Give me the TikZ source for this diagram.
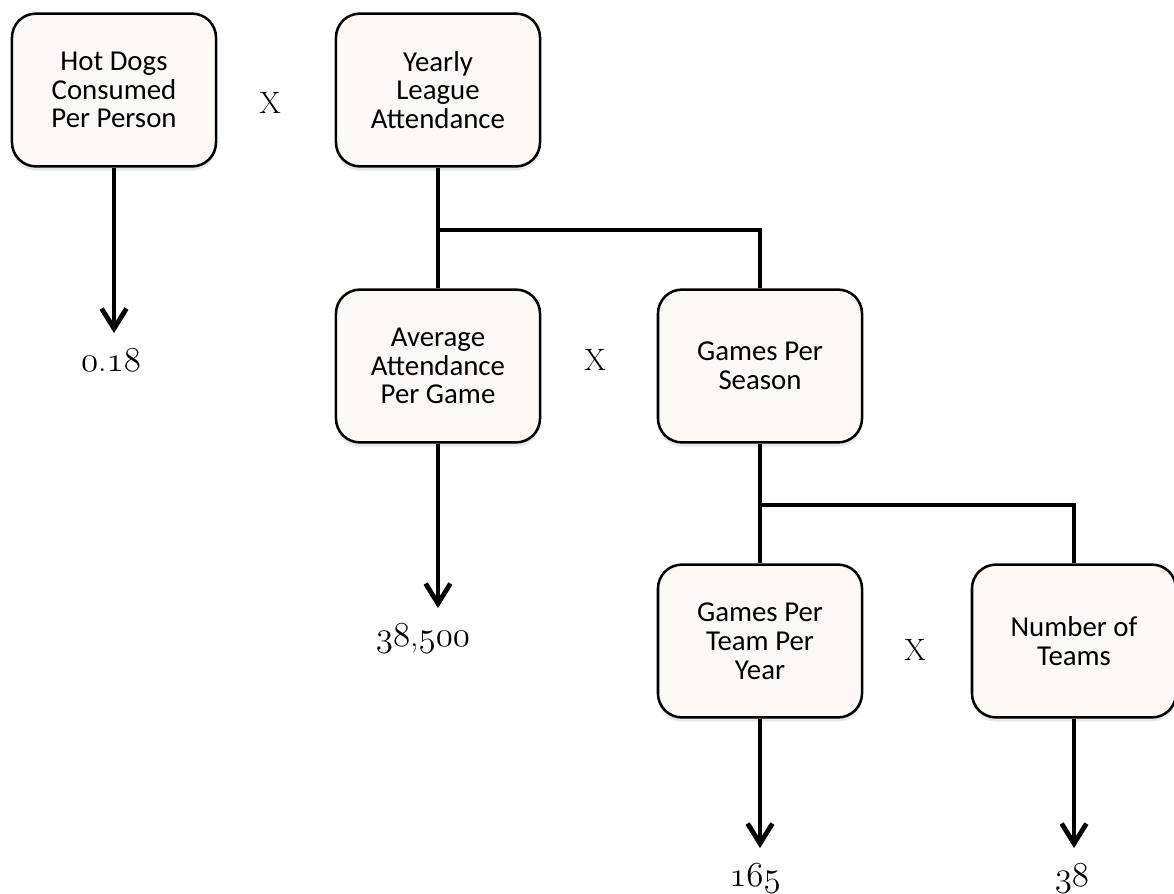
\documentclass[tikz,border=0pt]{standalone}
\usepackage{fontspec}
\usepackage{tikz}
\usetikzlibrary{arrows.meta, shadows}
\newfontfamily\boxfont{Carlito}
\newcommand{\oldnum}[1]{{\usefont{OML}{cmm}{m}{it}#1}}
\definecolor{boxfill}{RGB}{251,248,245}
\tikzset{
	factor/.style = {shape=rectangle, rounded corners=0.6cm,
		draw, line width=1.8pt, fill=boxfill, align=center,
		minimum width=5.1cm, minimum height=3.82cm,
		font=\boxfont\fontsize{20.5}{20.5}\selectfont,
		drop shadow={shadow xshift=0pt, shadow yshift=-3pt, opacity=0.18}},
	value/.style    = {anchor=base, font=\fontsize{24}{26}\selectfont},
	times/.style    = {font=\fontsize{22}{24}\selectfont},
	link/.style     = {draw, line width=3.4pt},
	result/.style   = {link, -{Straight Barb[length=0.5cm, width=0.62cm]},
		shorten >=0.26cm}
}

\begin{document}
\begin{tikzpicture}
	[
	x = 0.025cm,
	y = -0.025cm
	]
	\useasboundingbox (0,0) rectangle (1174,893);
	% first row
	\node [factor] (hotdogs) at (114,90) {Hot Dogs\\Consumed\\Per Person};
	\node [factor] (yearly) at (438,90) {Yearly\\League\\Attendance};
	\node [times] (x1) at (270,103) {X};
	% second row
	\node [factor] (average) at (438,366) {Average\\Attendance\\Per Game};
	\node [factor] (season) at (760,366) {Games Per\\Season};
	\node [times] (x2) at (595,360) {X};
	% third row
	\node [factor] (perteam) at (760,641) {Games Per\\Team Per\\Year};
	\node [factor] (teams) at (1074,641) {Number of\\Teams};
	\node [times] (x3) at (915,650) {X};
	% values
	\node [value] (vhotdogs) at (111,371) {\oldnum{0}.\oldnum{18}};
	\node [value] (vaverage) at (423,646) {\oldnum{38},\oldnum{500}};
	\node [value] (vperteam) at (755,886) {\oldnum{165}};
	\node [value] (vteams) at (1072,886) {\oldnum{38}};
	% branches
	\coordinate (j1) at (438,230);
	\coordinate (j2) at (760,505);
	\draw [link] (yearly.south) -- (j1) -- (average.north);
	\draw [link] (j1) -| (season.north);
	\draw [link] (season.south) -- (j2) -- (perteam.north);
	\draw [link] (j2) -| (teams.north);
	% arrows to values
	\draw [result] (hotdogs.south) -- (hotdogs.south |- vhotdogs.north);
	\draw [result] (average.south) -- (average.south |- vaverage.north);
	\draw [result] (perteam.south) -- (perteam.south |- vperteam.north);
	\draw [result] (teams.south) -- (teams.south |- vteams.north);
\end{tikzpicture}
\end{document}
